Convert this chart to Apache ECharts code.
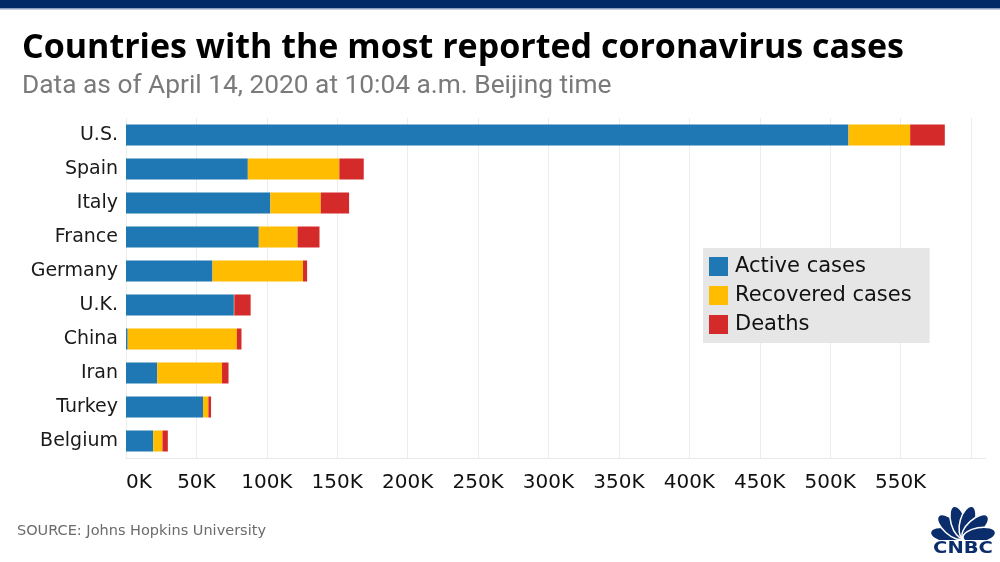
<!DOCTYPE html>
<html>
<head>
<meta charset="utf-8">
<script src="https://cdn.jsdelivr.net/npm/echarts@6/dist/echarts.min.js"></script>
<style>
html,body{margin:0;padding:0;background:#fff;}
#chart{width:1000px;height:562px;}
</style>
</head>
<body>
<div id="chart"></div>
<script>
const countries = ['U.S.', 'Spain', 'Italy', 'France', 'Germany', 'U.K.', 'China', 'Iran', 'Turkey', 'Belgium'];
const activeCases = [513000, 86500, 102500, 94300, 61400, 76600, 1200, 22200, 54700, 19300];
const recoveredCases = [43800, 65000, 35800, 27500, 64300, 300, 77500, 46000, 3800, 6600];
const deaths = [24600, 17300, 20100, 15600, 2900, 11600, 3300, 4600, 1900, 3800];
const seriesNames = ['Active cases', 'Recovered cases', 'Deaths'];
const tickMax = 600000;
const tickStep = 50000;

const colors = ['#1f77b4', '#ffbc00', '#d42a2a'];
const chart = echarts.init(document.getElementById('chart'), null, {renderer: 'canvas'});

const feathers = [-80, -48, -16, 16, 48, 80].map(function (deg) {
  return {
    type: 'ellipse',
    shape: {cx: 0, cy: -16.5, rx: 7.5, ry: 16.5},
    rotation: -deg * Math.PI / 180,
    originX: 0, originY: 0,
    style: {fill: '#0b2d6b', stroke: '#fff', lineWidth: 1.5}
  };
});

const option = {
  animation: false,
  backgroundColor: '#ffffff',
  color: colors,
  grid: {left: 126, right: 29, top: 118, height: 340, containLabel: false},
  xAxis: {
    type: 'value',
    min: 0,
    max: tickMax,
    interval: tickStep,
    axisLine: {show: true, lineStyle: {color: '#e8e8e8', width: 1}},
    axisTick: {show: false},
    splitLine: {show: true, lineStyle: {color: '#ececec', width: 1}},
    axisLabel: {
      margin: 15,
      fontFamily: 'DejaVu Sans',
      fontSize: 20,
      color: '#111',
      alignMinLabel: 'left',
      formatter: function (v) { return v >= tickMax ? '' : (v / 1000) + 'K'; }
    }
  },
  yAxis: {
    type: 'category',
    inverse: true,
    data: countries,
    axisLine: {show: false},
    axisTick: {show: false},
    axisLabel: {margin: 8, fontFamily: 'DejaVu Sans', fontSize: 19, color: '#1a1a1a', lineHeight: 24, padding: [4, 0, 0, 0]}
  },
  legend: {
    orient: 'vertical',
    left: 703,
    top: 248,
    backgroundColor: '#e6e6e6',
    padding: [8, 18, 8, 6],
    itemGap: 8,
    itemWidth: 19,
    itemHeight: 19,
    icon: 'rect',
    textStyle: {fontFamily: 'DejaVu Sans', fontSize: 21, color: '#111', padding: [0, 0, 0, 2]},
    data: seriesNames
  },
  series: [
    {name: seriesNames[0], type: 'bar', stack: 'total', barWidth: 21, data: activeCases},
    {name: seriesNames[1], type: 'bar', stack: 'total', barWidth: 21, data: recoveredCases},
    {name: seriesNames[2], type: 'bar', stack: 'total', barWidth: 21, data: deaths}
  ],
  graphic: [
    {type: 'rect', left: 0, top: 0, shape: {width: 1000, height: 8}, style: {fill: '#002b67'}},
    {type: 'rect', left: 0, top: 8, shape: {width: 1000, height: 1.5}, style: {fill: '#8c9fc2'}},
    {type: 'rect', left: 971, top: 458, shape: {width: 15, height: 1}, style: {fill: '#e8e8e8'}},
    {type: 'text', x: 22, y: 48, style: {text: 'Countries with the most reported coronavirus cases', font: 'bold 34px "Open Sans"', fill: '#000', verticalAlign: 'middle'}},
    {type: 'text', x: 22, y: 86, style: {text: 'Data as of April 14, 2020 at 10:04 a.m. Beijing time', font: '26.3px Roboto', fill: '#7a7a7a', verticalAlign: 'middle'}},
    {type: 'text', x: 17, y: 531, style: {text: 'SOURCE: Johns Hopkins University', font: '14.5px "DejaVu Sans"', fill: '#6b6b6b', verticalAlign: 'middle'}},
    {type: 'group', x: 963, y: 538, children: feathers},
    {type: 'rect', left: 930, top: 540, shape: {width: 66, height: 18}, style: {fill: '#fff'}},
    {type: 'text', x: 963, y: 549, scaleX: 1.22, style: {text: 'CNBC', font: 'bold 16px "DejaVu Sans"', fill: '#0b2d6b', align: 'center', verticalAlign: 'middle'}}
  ]
};
chart.setOption(option);
</script>
</body>
</html>
